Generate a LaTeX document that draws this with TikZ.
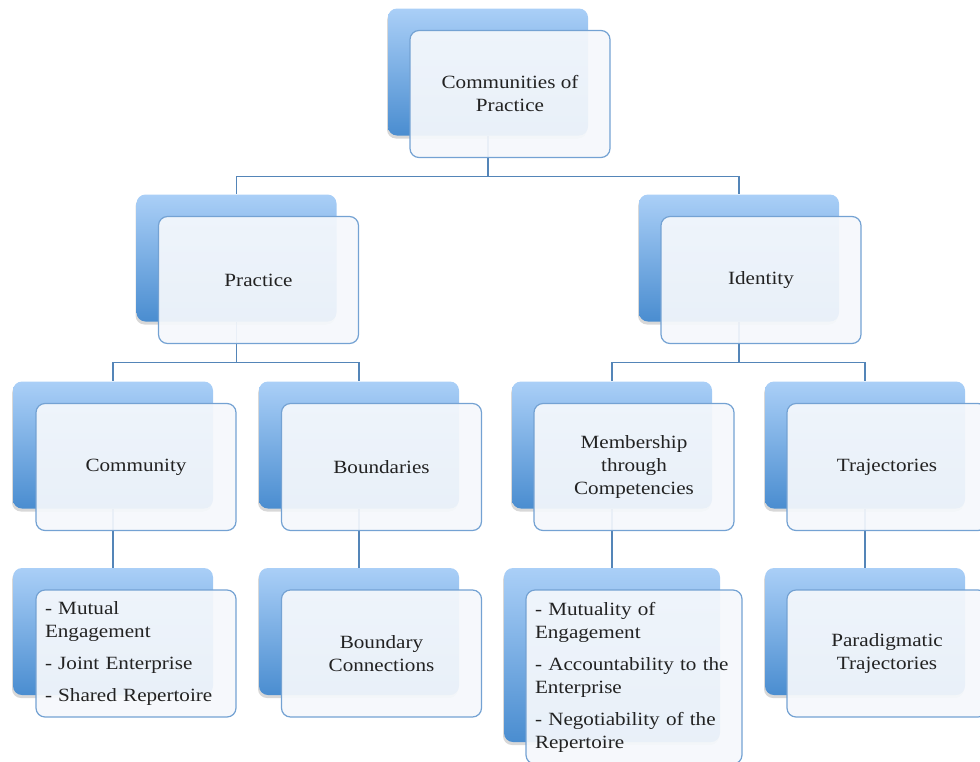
\documentclass[tikz,border=0pt]{standalone}
\usepackage{fontspec}
\setmainfont{Liberation Serif}[FakeStretch=1.13]
\usetikzlibrary{calc,shadows}
\definecolor{bTop}{HTML}{AACFF7}
\definecolor{bBot}{HTML}{4A8DD0}
\definecolor{fBorder}{HTML}{74A2D3}
\definecolor{fFill}{HTML}{F5F8FC}
\definecolor{connC}{HTML}{5485B8}
\definecolor{txtC}{HTML}{222222}
\pgfdeclarelayer{background}
\pgfsetlayers{background,main}
\tikzset{
  backbox/.style={rounded corners=9pt, draw=none, inner sep=0pt,
    minimum width=200pt, minimum height=127pt,
    top color=bTop, bottom color=bBot,
    drop shadow={shadow xshift=-1pt, shadow yshift=-3pt, opacity=0.22, fill=black!70}},
  frontbox/.style={rounded corners=9pt, draw=fBorder, line width=1.2pt,
    fill=fFill, fill opacity=0.93, text opacity=1, text=txtC,
    minimum width=200pt, minimum height=127pt, align=center,
    font=\fontsize{18.7}{23}\selectfont},
  listbox/.style={frontbox, align=left, inner xsep=9pt},
  conn/.style={draw=connC, line width=1.3pt},
}
\begin{document}
\begin{tikzpicture}[x=1pt,y=-1pt]
\useasboundingbox (0,0) rectangle (980,761);
% level 0
\node[backbox] (b0) at (488,72) {};
\node[frontbox] (f0) at (510,94) {Communities of\\Practice};
% level 1
\node[backbox] (b1) at (236.5,258) {};
\node[frontbox] (f1) at (258.5,280) {Practice};
\node[backbox] (b2) at (739,258) {};
\node[frontbox] (f2) at (761,280) {Identity};
% level 2
\node[backbox] (b3) at (113,445) {};
\node[frontbox] (f3) at (136,467) {Community};
\node[backbox] (b4) at (359,445) {};
\node[frontbox] (f4) at (381.5,467) {Boundaries};
\node[backbox] (b5) at (612,445) {};
\node[frontbox] (f5) at (634,467) {Membership\\through\\Competencies};
\node[backbox] (b6) at (865,445) {};
\node[frontbox] (f6) at (887,467) {Trajectories};
% level 3
\node[backbox] (b7) at (113,631.5) {};
\node[listbox, text width=182pt] (f7) at (136,653.5) {- Mutual\\Engagement\\[9pt]- Joint Enterprise\\[9pt]- Shared Repertoire};
\node[backbox] (b8) at (359,631.5) {};
\node[frontbox] (f8) at (381.5,653.5) {Boundary\\Connections};
\node[backbox, minimum width=216pt, minimum height=174pt] (b9) at (612,655) {};
\node[listbox, minimum width=216pt, minimum height=174pt, text width=198pt] (f9) at (634,677) {- Mutuality of\\Engagement\\[9pt]- Accountability to the\\Enterprise\\[9pt]- Negotiability of the\\Repertoire};
\node[backbox] (b10) at (865,631.5) {};
\node[frontbox] (f10) at (887,653.5) {Paradigmatic\\Trajectories};
% connectors
\begin{pgfonlayer}{background}
\coordinate (h0) at ($(f0.south)!.5!(b1.north)$);
\coordinate (h1) at ($(f1.south)!.5!(b3.north)$);
\coordinate (h2) at ($(f2.south)!.5!(b5.north)$);
\draw[conn] (b0.south) -- (b0.south |- h0) -| (b1.north);
\draw[conn] (b0.south |- h0) -| (b2.north);
\draw[conn] (b1.south) -- (b1.south |- h1) -| (b3.north);
\draw[conn] (b1.south |- h1) -| (b4.north);
\draw[conn] (b2.south) -- (b2.south |- h2) -| (b5.north);
\draw[conn] (b2.south |- h2) -| (b6.north);
\draw[conn] (b3.south) -- (b7.north);
\draw[conn] (b4.south) -- (b8.north);
\draw[conn] (b5.south) -- (b9.north);
\draw[conn] (b6.south) -- (b10.north);
\end{pgfonlayer}
\end{tikzpicture}
\end{document}
